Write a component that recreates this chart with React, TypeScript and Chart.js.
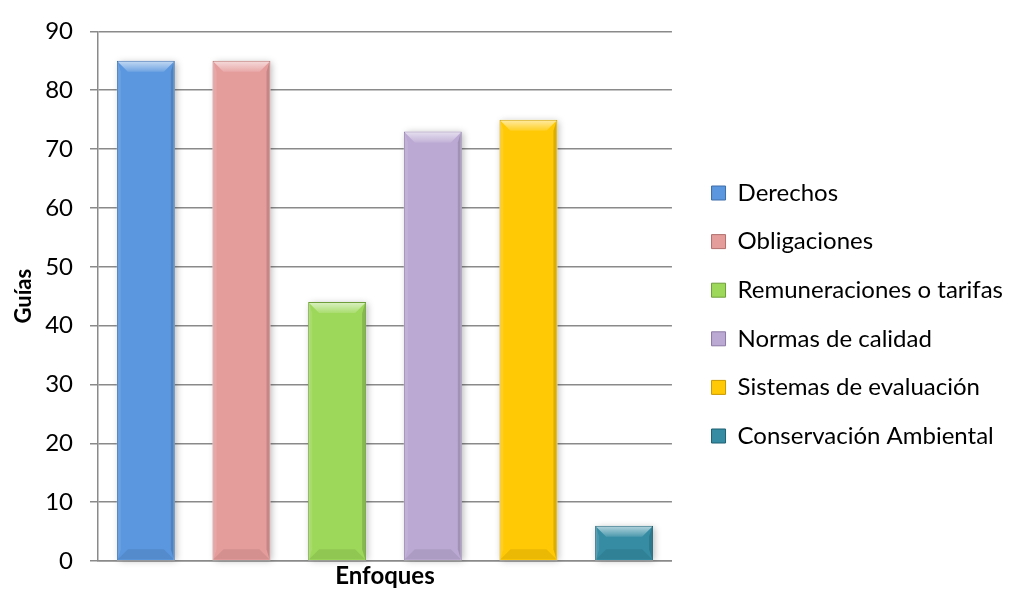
import React, { useEffect, useRef } from "react";
import { Chart, registerables } from "chart.js";

Chart.register(...registerables);

const categories = ["Enfoques"];
const seriesNames = [
  "Derechos",
  "Obligaciones",
  "Remuneraciones o tarifas",
  "Normas de calidad",
  "Sistemas de evaluación",
  "Conservación Ambiental",
];
const seriesValues = [85, 85, 44, 73, 75, 6];
const seriesColors = ["#5B97DE", "#E59D9C", "#9DD85A", "#BBA9D3", "#FFC905", "#358CA3"];
const seriesBorders = ["#3E6EA8", "#B2706E", "#6E9E3A", "#8C7AA6", "#C79A00", "#1F5F71"];
const yTickValues = [0, 10, 20, 30, 40, 50, 60, 70, 80, 90];
const yTitle = "Guías";
const xTitle = "Enfoques";

const FONT = "Lato";

const bevelPlugin = {
  id: "bevel",
  beforeDatasetsDraw(chart: any) {
    const ctx = chart.ctx;
    ctx.save();
    chart.data.datasets.forEach((_ds: any, i: number) => {
      const meta = chart.getDatasetMeta(i);
      meta.data.forEach((bar: any) => {
        const { x, y, base, width } = bar.getProps(["x", "y", "base", "width"], true);
        ctx.shadowColor = "rgba(0,0,0,0.28)";
        ctx.shadowBlur = 7;
        ctx.shadowOffsetX = 2;
        ctx.shadowOffsetY = 1;
        ctx.fillStyle = "rgba(255,255,255,1)";
        ctx.fillRect(x - width / 2, y, width, base - y);
      });
    });
    ctx.restore();
  },
  afterDatasetsDraw(chart: any) {
    const ctx = chart.ctx;
    chart.data.datasets.forEach((_ds: any, i: number) => {
      const meta = chart.getDatasetMeta(i);
      meta.data.forEach((bar: any) => {
        const { x, y, base, width } = bar.getProps(["x", "y", "base", "width"], true);
        const l = x - width / 2 + 1;
        const r = x + width / 2 - 1;
        const t = y + 1;
        const b = base - 1;
        const d = Math.min(10, (b - t) / 2);
        const s = 3;
        ctx.save();
        const g = ctx.createLinearGradient(0, t, 0, t + d);
        g.addColorStop(0, "rgba(255,255,255,0.6)");
        g.addColorStop(1, "rgba(255,255,255,0.12)");
        ctx.fillStyle = g;
        ctx.beginPath();
        ctx.moveTo(l, t);
        ctx.lineTo(r, t);
        ctx.lineTo(r - d, t + d);
        ctx.lineTo(l + d, t + d);
        ctx.closePath();
        ctx.fill();
        ctx.fillStyle = "rgba(0,0,0,0.14)";
        ctx.beginPath();
        ctx.moveTo(r, t);
        ctx.lineTo(r, b);
        ctx.lineTo(r - s, b - d);
        ctx.lineTo(r - s, t + d);
        ctx.closePath();
        ctx.fill();
        ctx.fillStyle = "rgba(255,255,255,0.10)";
        ctx.beginPath();
        ctx.moveTo(l, t);
        ctx.lineTo(l + s, t + d);
        ctx.lineTo(l + s, b - d);
        ctx.lineTo(l, b);
        ctx.closePath();
        ctx.fill();
        ctx.fillStyle = "rgba(0,0,0,0.08)";
        ctx.beginPath();
        ctx.moveTo(l, b);
        ctx.lineTo(r, b);
        ctx.lineTo(r - d, b - d);
        ctx.lineTo(l + d, b - d);
        ctx.closePath();
        ctx.fill();
        ctx.restore();
      });
    });
  },
};

export default function App() {
  const ref = useRef<HTMLCanvasElement | null>(null);

  useEffect(() => {
    if (!ref.current) return;
    Chart.defaults.font.family = FONT;
    Chart.defaults.color = "#000";
    const chart = new Chart(ref.current, {
      type: "bar",
      data: {
        labels: categories,
        datasets: seriesNames.map((name, i) => ({
          label: name,
          data: [seriesValues[i]],
          backgroundColor: seriesColors[i],
          borderColor: seriesBorders[i],
          borderWidth: 1,
          barPercentage: 0.606,
          categoryPercentage: 1.0,
          yAxisID: "y",
        })),
      },
      options: {
        animation: false,
        responsive: true,
        maintainAspectRatio: false,
        layout: { padding: { top: 26, right: 0, bottom: 0, left: 0 } },
        plugins: {
          tooltip: { enabled: false },
          legend: {
            position: "right",
            align: "center",
            maxWidth: 420,
            title: { display: true, text: " ", font: { size: 5 }, padding: 2 },
            labels: {
              boxWidth: 14,
              boxHeight: 14,
              padding: 24.6,
              color: "#000",
              font: { family: FONT, size: 24 },
            },
          },
        },
        scales: {
          x: {
            grid: { display: false, drawTicks: false },
            border: { display: true, color: "#8a8a8a", width: 1.5 },
            ticks: { display: false },
            title: {
              display: true,
              text: xTitle,
              color: "#000",
              font: { family: FONT, size: 24, weight: "bold" },
              padding: { top: 0, bottom: 2 },
            },
            afterFit: (s: any) => {
              s.height = 32;
            },
          },
          y: {
            min: 0,
            max: 90,
            afterBuildTicks: (s: any) => {
              s.ticks = yTickValues.map((v) => ({ value: v }));
            },
            grid: {
              color: "#8a8a8a",
              lineWidth: 1.5,
              drawTicks: true,
              tickLength: 8,
            },
            border: { display: true, color: "#8a8a8a", width: 1.5 },
            ticks: {
              padding: 17,
              color: "#000",
              font: { family: FONT, size: 24 },
            },
            title: {
              display: true,
              text: yTitle,
              color: "#000",
              font: { family: FONT, size: 22, weight: "bold" },
              padding: { top: 11, bottom: 0 },
            },
            afterFit: (s: any) => {
              s.width = 98;
            },
          },
          yR: {
            type: "linear",
            position: "right",
            display: true,
            grid: { display: false, drawTicks: false },
            border: { display: false },
            ticks: { display: false },
            afterFit: (s: any) => {
              s.width = 15;
            },
          },
        },
      },
      plugins: [bevelPlugin],
    } as any);
    return () => chart.destroy();
  }, []);

  return (
    <div style={{ position: "absolute", left: 0, top: 0, width: 1013, height: 593 }}>
      <canvas ref={ref} />
    </div>
  );
}
